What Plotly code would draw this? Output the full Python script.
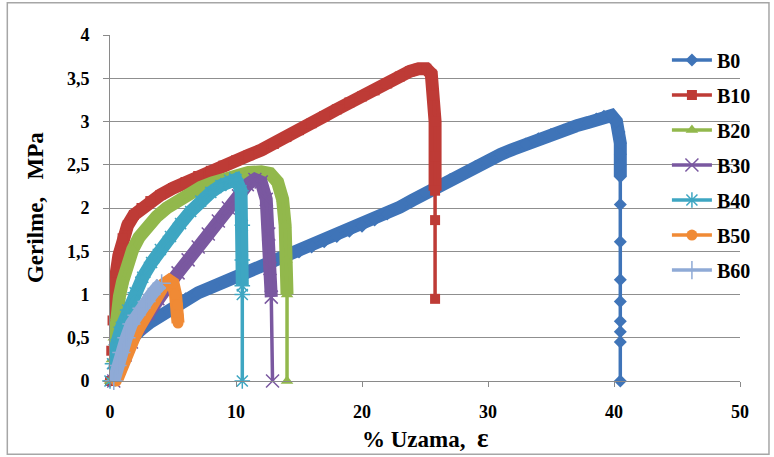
import plotly.graph_objects as go

# Strain (%) / stress (MPa) readings for each blend
b0_x = [0, 0.3, 0.7, 1.2, 1.8, 2.5, 3.2, 4.0, 5.0, 6.0, 7.0, 8.0, 9.0, 10.0, 11.0, 12.0,
        13.0, 14.0, 15.0, 16.0, 17.0, 18.0, 19.0, 20.0, 21.0, 22.0, 23.0, 24.0, 25.0,
        26.0, 27.0, 28.0, 29.0, 30.0, 31.0, 32.0, 33.0, 34.0, 35.0, 36.0, 37.0, 38.0,
        38.6, 39.2, 39.8, 40.2, 40.4, 40.5, 40.5, 40.5, 40.5,
        40.5, 40.5, 40.5, 40.5, 40.5, 40.5, 40.5, 40.5]
b0_y = [0, 0.15, 0.3, 0.42, 0.52, 0.6, 0.68, 0.76, 0.86, 0.95, 1.02, 1.08, 1.14, 1.2, 1.26, 1.32,
        1.37, 1.43, 1.49, 1.55, 1.61, 1.67, 1.73, 1.79, 1.86, 1.93, 2.01, 2.09, 2.17,
        2.25, 2.33, 2.4, 2.48, 2.55, 2.62, 2.68, 2.74, 2.8, 2.85, 2.9, 2.95, 2.99,
        3.03, 3.06, 3.07, 3.0, 2.88, 2.75, 2.62, 2.5, 2.36,
        2.04, 1.61, 1.17, 0.92, 0.69, 0.57, 0.45, 0]

b10_x = [0, 0.1, 0.2, 0.35, 0.5, 0.7, 1.0, 1.4, 1.9, 2.5, 3.2, 4.0, 5.0, 6.0, 7.0, 8.0, 9.0,
         10.0, 11.0, 12.0, 13.0, 14.0, 15.0, 16.0, 17.0, 18.0, 19.0, 20.0, 21.0, 22.0,
         23.0, 23.8, 24.5, 25.1, 25.5, 25.7, 25.8, 25.8, 25.8, 25.8, 25.8]
b10_y = [0, 0.35, 0.7, 1.0, 1.25, 1.45, 1.65, 1.8, 1.92, 2.0, 2.08, 2.15, 2.23, 2.3, 2.37, 2.43,
         2.49, 2.55, 2.61, 2.67, 2.74, 2.82, 2.9, 2.98, 3.06, 3.14, 3.22, 3.29, 3.36, 3.44,
         3.52, 3.58, 3.61, 3.61, 3.55, 3.3, 3.0, 2.6, 2.2, 1.86, 0.95]

b20_x = [0, 0.15, 0.3, 0.5, 0.75, 1.0, 1.4, 1.8, 2.3, 3.0, 3.7, 4.5, 5.4, 6.3, 7.2, 8.1, 9.0,
         10.0, 11.0, 12.0, 12.7, 13.3, 13.7, 13.9, 14.0, 14.05, 14.05]
b20_y = [0, 0.25, 0.5, 0.74, 0.98, 1.15, 1.35, 1.52, 1.66, 1.8, 1.9, 2.0, 2.09, 2.17, 2.24,
         2.29, 2.33, 2.37, 2.41, 2.42, 2.4, 2.3, 2.1, 1.8, 1.4, 1.0, 0]

b30_x = [0.3, 0.7, 1.2, 1.7, 2.3, 3.0, 3.8, 4.6, 5.4, 6.2, 7.0, 7.8, 8.6, 9.4, 10.2, 10.9,
         11.5, 12.0, 12.4, 12.6, 12.7, 12.8, 12.9]
b30_y = [0, 0.15, 0.3, 0.45, 0.62, 0.78, 0.95, 1.1, 1.25, 1.4, 1.55, 1.7, 1.85, 2.0, 2.14,
         2.27, 2.33, 2.3, 2.1, 1.7, 1.3, 0.97, 0]

b40_x = [0, 0.2, 0.5, 0.9, 1.4, 2.0, 2.6, 3.3, 4.0, 4.8, 5.6, 6.4, 7.2, 8.0, 8.8, 9.5, 10.0,
         10.4, 10.5, 10.5, 10.5, 10.5, 10.5]
b40_y = [0, 0.2, 0.42, 0.62, 0.82, 1.02, 1.2, 1.37, 1.52, 1.67, 1.82, 1.96, 2.08, 2.18, 2.26,
         2.32, 2.33, 2.2, 1.8, 1.4, 1.1, 1.0, 0]

b50_x = [0.5, 0.8, 1.1, 1.5, 1.9, 2.3, 2.7, 3.1, 3.5, 3.9, 4.3, 4.7, 5.0, 5.2, 5.35, 5.4, 5.4]
b50_y = [0, 0.12, 0.25, 0.38, 0.5, 0.62, 0.73, 0.85, 0.95, 1.05, 1.12, 1.16, 1.13, 1.0, 0.88,
         0.76, 0.67]

b60_x = [0.3, 0.6, 0.9, 1.3, 1.7, 2.1, 2.5, 2.9, 3.3, 3.7, 4.1]
b60_y = [0, 0.18, 0.33, 0.5, 0.66, 0.76, 0.84, 0.92, 1.0, 1.07, 1.13]

series_names = ["B0", "B10", "B20", "B30", "B40", "B50", "B60"]
series_x = [b0_x, b10_x, b20_x, b30_x, b40_x, b50_x, b60_x]
series_y = [b0_y, b10_y, b20_y, b30_y, b40_y, b50_y, b60_y]

x_ticks = [0, 10, 20, 30, 40, 50]
x_tick_text = ["0", "10", "20", "30", "40", "50"]
y_ticks = [0, 0.5, 1, 1.5, 2, 2.5, 3, 3.5, 4]
y_tick_text = ["0", "0,5", "1", "1,5", "2", "2,5", "3", "3,5", "4"]

y_title = "Gerilme,\u00a0\u00a0\u00a0MPa"
x_title = "% Uzama,\u00a0\u00a0<span style='font-size:27px'>ε</span>"

# Styling per series
colors = ["#3F74B8", "#BE3B36", "#92B84C", "#7A58A0", "#3EA6C2", "#F08A35", "#8FAAD6"]
symbols = ["diamond", "square", "triangle-up", "x-thin-open", "asterisk-open", "circle",
           "cross-thin-open"]
marker_sizes = [10, 10, 11, 13, 13, 11, 13]
# number of trailing points drawn only as a thin line after failure
tail_points = [8, 2, 1, 1, 2, 0, 0]

SERIF = "Times New Roman, Liberation Serif, serif"
fig = go.Figure()

for name, xs, ys, col, sym, ms, tail in zip(series_names, series_x, series_y, colors,
                                            symbols, marker_sizes, tail_points):
    head = len(xs) - tail
    # dense, thick body of the curve
    fig.add_trace(go.Scatter(
        x=xs[:head], y=ys[:head], mode="lines", legendgroup=name, showlegend=False,
        line=dict(color=col, width=13), hoverinfo="skip", cliponaxis=False))
    thin = sym.endswith("-open")
    fig.add_trace(go.Scatter(
        x=xs, y=ys, mode="lines+markers", name=name, legendgroup=name,
        line=dict(color=col, width=3.5), cliponaxis=False,
        marker=dict(symbol=sym, size=ms, color=col,
                    line=dict(color=col, width=1.5 if thin else 0))))

fig.update_layout(
    width=774, height=457,
    margin=dict(l=110, r=34, t=35, b=76),
    paper_bgcolor="white", plot_bgcolor="white",
    font=dict(family=SERIF, color="black"),
    showlegend=True,
    legend=dict(x=0.884, y=0.984, xanchor="left", yanchor="top",
                bgcolor="rgba(0,0,0,0)", borderwidth=0, tracegroupgap=6,
                itemwidth=40,
                font=dict(family=SERIF, size=20, color="black", weight="bold")),
    xaxis=dict(range=[0, 50], tickvals=x_ticks, ticktext=x_tick_text,
               showgrid=False, zeroline=False, showline=True, linecolor="#8A8A8A",
               linewidth=1, ticks="outside", ticklen=5, tickcolor="#8A8A8A",
               ticklabelstandoff=9,
               tickfont=dict(family=SERIF, size=18, color="black", weight="bold")),
    yaxis=dict(range=[0, 4], tickvals=y_ticks, ticktext=y_tick_text,
               showgrid=True, gridcolor="#8F8F8F", gridwidth=1, zeroline=False,
               showline=True, linecolor="#8A8A8A", linewidth=1, ticks="outside",
               ticklen=6, tickcolor="#8A8A8A", ticklabelstandoff=10,
               tickfont=dict(family=SERIF, size=18, color="black", weight="bold")),
    annotations=[
        dict(text=y_title, xref="paper", yref="paper", x=-0.119, y=0.5,
             xanchor="center", yanchor="middle", textangle=-90, showarrow=False,
             font=dict(family=SERIF, size=23, color="black", weight="bold")),
        dict(text=x_title, xref="paper", yref="paper", x=0.5, y=-0.165,
             xanchor="center", yanchor="middle", showarrow=False,
             font=dict(family=SERIF, size=23, color="black", weight="bold")),
    ],
    shapes=[dict(type="rect", xref="paper", yref="paper",
                 x0=-0.163, x1=1.046, y0=-0.212, y1=1.093,
                 line=dict(color="#A6A6A6", width=1.5))],
)

fig.write_html("out.html")
